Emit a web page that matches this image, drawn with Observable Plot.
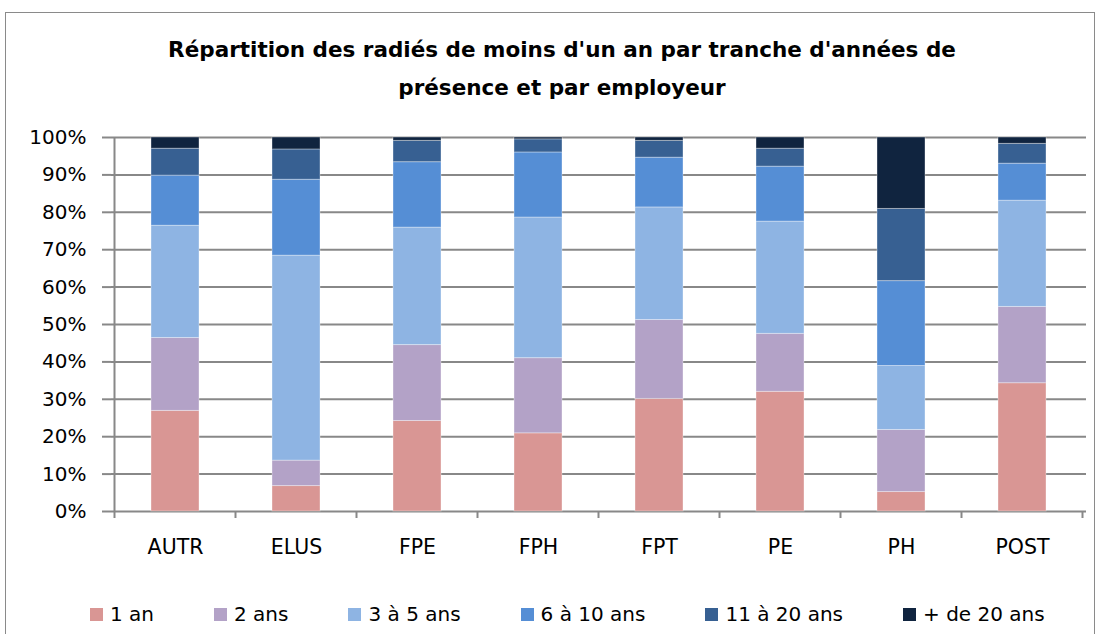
<!DOCTYPE html>
<html>
<head>
<meta charset="utf-8">
<script src="https://cdn.jsdelivr.net/npm/d3@7"></script>
<script src="https://cdn.jsdelivr.net/npm/@observablehq/plot@0.6"></script>
<style>
  html, body { margin: 0; padding: 0; background: #fff; }
  body { width: 1102px; height: 634px; position: relative; overflow: hidden; font-family: "DejaVu Sans", sans-serif; }
  #frame { position: absolute; left: 5px; top: 12px; width: 1090px; height: 700px; border: 1.5px solid #8a8a8a; box-sizing: border-box; }
  #title { position: absolute; left: 0; top: 31px; width: 1124px; text-align: center; font-weight: bold; font-size: 21.5px; line-height: 38px; color: #000; }
  #chart { position: absolute; left: 0; top: 120px; }
  #legend { position: absolute; left: 90px; top: 602px; display: flex; gap: 60px; font-size: 20px; color: #000; }
  .item { display: flex; align-items: center; white-space: nowrap; }
  .sw { width: 13px; height: 13px; margin-right: 7px; }
</style>
</head>
<body>
<div id="frame"></div>
<div id="title">Répartition des radiés de moins d'un an par tranche d'années de<br>présence et par employeur</div>
<div id="chart"></div>
<div id="legend"></div>
<script>
const categories = ["AUTR", "ELUS", "FPE", "FPH", "FPT", "PE", "PH", "POST"];
const seriesNames = ["1 an", "2 ans", "3 à 5 ans", "6 à 10 ans", "11 à 20 ans", "+ de 20 ans"];
const seriesColors = ["#d99694", "#b3a2c7", "#8eb4e3", "#558ed5", "#376092", "#10243f"];
const un_an      = [26.9, 6.8, 24.2, 20.9, 30.1, 32.0, 5.2, 34.3];
const deux_ans   = [19.5, 6.8, 20.3, 20.1, 21.1, 15.5, 16.6, 20.4];
const trois_cinq = [30.0, 54.8, 31.4, 37.6, 30.1, 30.0, 17.1, 28.4];
const six_dix    = [13.4, 20.3, 17.5, 17.4, 13.3, 14.7, 22.7, 9.9];
const onze_vingt = [7.2, 8.1, 5.7, 3.5, 4.5, 4.8, 19.3, 5.3];
const plus_vingt = [3.0, 3.2, 0.9, 0.5, 0.9, 3.0, 19.1, 1.7];
const yTicks = [0, 0.1, 0.2, 0.3, 0.4, 0.5, 0.6, 0.7, 0.8, 0.9, 1.0];

const seriesValues = [un_an, deux_ans, trois_cinq, six_dix, onze_vingt, plus_vingt];
const data = [];
seriesValues.forEach((vals, s) => {
  vals.forEach((v, i) => data.push({cat: categories[i], serie: seriesNames[s], value: v / 100}));
});

const gridColor = "#888888";

// category boundary ticks + left axis line (Excel style)
function catTicks(index, scales, values, dimensions) {
  const x = scales.x, y = scales.y;
  const step = x(categories[1]) - x(categories[0]);
  const bw = typeof x.bandwidth === "function" ? x.bandwidth() : step * 0.4;
  const gap = step - bw;
  const g = d3.create("svg:g");
  const y0 = y(0);
  const bounds = categories.map(c => x(c) - gap / 2);
  bounds.push(x(categories[categories.length - 1]) + bw + gap / 2);
  bounds.forEach(b => {
    g.append("line").attr("x1", b).attr("x2", b).attr("y1", y0).attr("y2", y0 + 7)
      .attr("stroke", gridColor).attr("stroke-width", 2);
  });
  g.append("line").attr("x1", bounds[0]).attr("x2", bounds[0]).attr("y1", y(1)).attr("y2", y0)
    .attr("stroke", gridColor).attr("stroke-width", 2);
  return g.node();
}

const chart = Plot.plot({
  width: 1102,
  height: 440,
  marginLeft: 111,
  marginRight: 16,
  marginTop: 17,
  marginBottom: 49,
  style: {fontFamily: "'DejaVu Sans', sans-serif", fontSize: "20px", color: "#000", background: "transparent"},
  x: {domain: categories, paddingInner: 0.6, paddingOuter: 0.3, label: null},
  y: {domain: [0, 1], label: null},
  color: {domain: seriesNames, range: seriesColors},
  marks: [
    Plot.ruleY(yTicks, {y: d => d, stroke: gridColor, strokeWidth: 2, strokeOpacity: 1}),
    Plot.axisY({ticks: yTicks, tickFormat: d3.format(".0%"), tickSize: 9, tickPadding: 16, stroke: gridColor, strokeWidth: 2, strokeOpacity: 1, fontSize: 20, label: null}),
    Plot.axisX({tickSize: 0, tickPadding: 28, fontSize: 20.5, label: null}),
    Plot.barY(data, {x: "cat", y: "value", fill: "serie", stroke: "#ffffff", strokeOpacity: 0.35, strokeWidth: 1}),
    catTicks
  ]
});
document.getElementById("chart").appendChild(chart);

const legend = document.getElementById("legend");
seriesNames.forEach((n, i) => {
  const it = document.createElement("div");
  it.className = "item";
  const sw = document.createElement("span");
  sw.className = "sw";
  sw.style.background = seriesColors[i];
  it.appendChild(sw);
  const t = document.createElement("span");
  t.textContent = n;
  it.appendChild(t);
  legend.appendChild(it);
});
</script>
</body>
</html>
